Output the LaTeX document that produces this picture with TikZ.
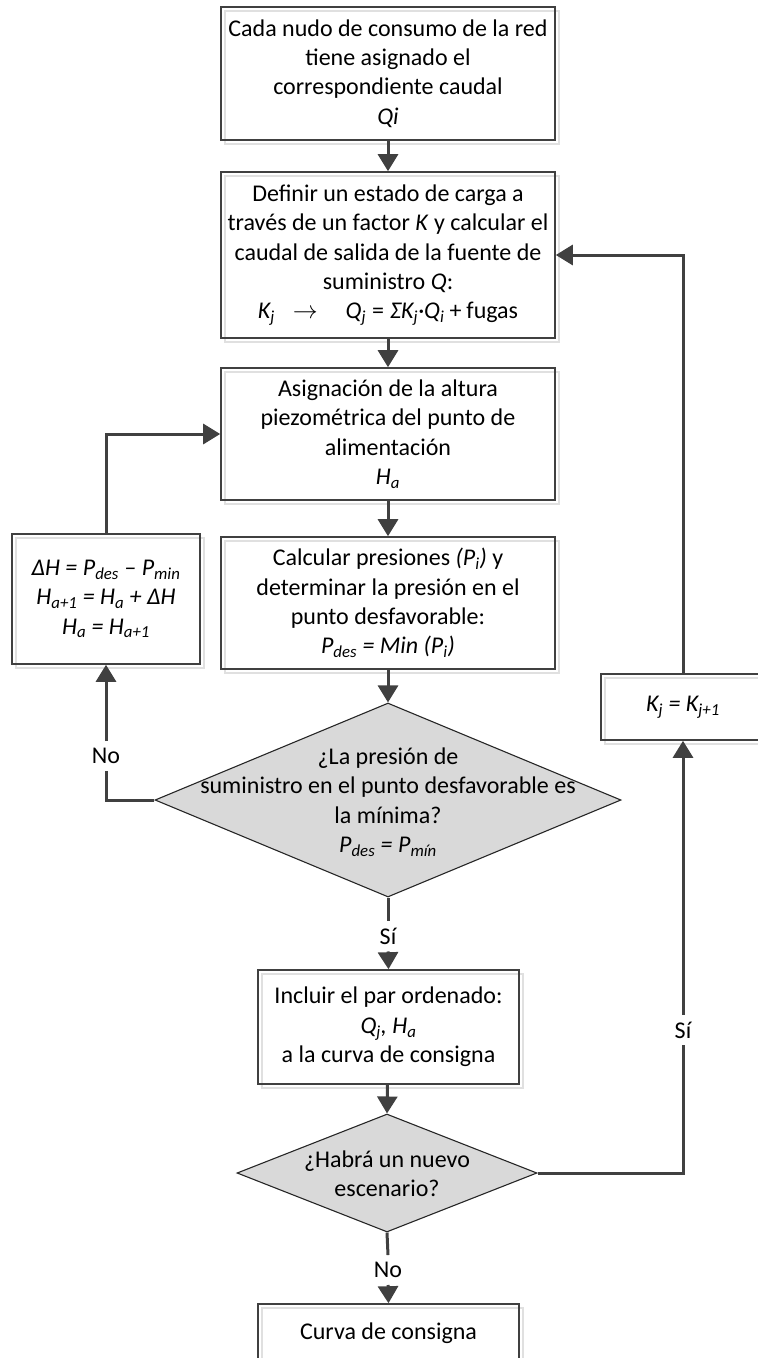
\documentclass[tikz,border=0pt]{standalone}
\usepackage{fontspec}
\setmainfont{Carlito}
\usetikzlibrary{arrows.meta,shapes.geometric}
% italic variable with an italic subscript
\newcommand\iv[2]{\textit{#1\textsubscript{#2}}}
\tikzset{
  txt/.style={font=\fontsize{24}{29.3}\selectfont, align=center},
  procbox/.style={txt, draw=black!75, line width=1.6pt, inner sep=0pt,
    preaction={draw=black!12, line width=1.4pt,
      transform canvas={shift={(4pt,-4pt)}}}},
  decision/.style={diamond, draw=black!85, line width=1.1pt, fill=black!15,
    inner sep=0pt},
  flow/.style={draw=black!75, line width=3pt,
    -{Triangle[width=20pt,length=17pt]}},
  plain/.style={draw=black!75, line width=3pt},
  tag/.style={font=\fontsize{24}{29.3}\selectfont, inner sep=7pt},
}
\begin{document}
\begin{tikzpicture}[x=1pt,y=-1pt]
\useasboundingbox (0,0) rectangle (758,1358);
\clip (0,0) rectangle (758,1358);

% main column
\node[procbox, minimum width=334pt, minimum height=133pt] (b1) at (388,73.5)
  {Cada nudo de consumo de la red\\ tiene asignado el\\ correspondiente caudal\\ \textit{Qi}};
\node[procbox, minimum width=334pt, minimum height=166pt] (b2) at (388,255)
  {Definir un estado de carga a\\ través de un factor \textit{K} y calcular el\\
   caudal de salida de la fuente de\\ suministro \textit{Q}:\\
   \iv{K}{j}\hspace{18pt}$\rightarrow$\hspace{28pt}\iv{Q}{j}\hspace{6pt}=\hspace{6pt}\textit{ΣK\textsubscript{j}·Q\textsubscript{i}}\hspace{5pt}+\hspace{5pt}fugas};
\node[procbox, minimum width=334pt, minimum height=132pt] (b3) at (388,434)
  {Asignación de la altura\\ piezométrica del punto de\\ alimentación\\ \iv{H}{a}};
\node[procbox, minimum width=334pt, minimum height=132pt] (b4) at (388,603)
  {Calcular presiones \textit{(P\textsubscript{i})} y\\ determinar la presión en el\\
   punto desfavorable:\\ \textit{P\textsubscript{des} = Min (P\textsubscript{i})}};

\node[decision, minimum width=466pt, minimum height=194pt] (d1) at (388,800) {};
\node[txt] (d1t) at (388,802)
  {¿La presión de\\ suministro en el punto desfavorable es\\ la mínima?\\
   \textit{P\textsubscript{des} = P\textsubscript{mín}}};

\node[procbox, minimum width=261pt, minimum height=114pt] (b5) at (388.5,1027)
  {Incluir el par ordenado:\\ \textit{Q\textsubscript{j}, H\textsubscript{a}}\\ a la curva de consigna};

\node[decision, minimum width=300pt, minimum height=118pt] (d2) at (387,1173) {};
\node[txt] (d2t) at (387,1174) {¿Habrá un nuevo\\ escenario?};

\node[procbox, minimum width=261pt, minimum height=58pt] (b6) at (388.5,1333)
  {Curva de consigna};

% side boxes
\node[procbox, minimum width=188pt, minimum height=130pt] (lb) at (106,599)
  {\textit{ΔH = P\textsubscript{des} – P\textsubscript{min}}\\
   \textit{H\textsubscript{a+1} = H\textsubscript{a} + ΔH}\\
   \textit{H\textsubscript{a} = H\textsubscript{a+1}}};
\node[procbox, minimum width=164pt, minimum height=66pt] (kj) at (683,707)
  {\textit{K\textsubscript{j} = K\textsubscript{j+1}}};

% branch labels
\node[tag] (si1) at (388,936) {Sí};
\node[tag] (no1) at (106,756) {No};
\node[tag] (si2) at (683,1030) {Sí};
\node[tag] (no2) at (388,1270) {No};

% connectors
\draw[flow] (b1) -- (b2);
\draw[flow] (b2) -- (b3);
\draw[flow] (b3) -- (b4);
\draw[flow] (b4) -- (d1.north);
\draw[plain] (d1.south) -- (si1.north);
\draw[flow] (si1.south) -- (b5.north);
\draw[flow] (b5) -- (d2.north);
\draw[plain] (d2.south) -- (no2.north);
\draw[flow] (no2.south) -- (b6.north);

\draw[plain] (d1.west) -| (no1.south);
\draw[flow] (no1.north) -- (lb.south);
\draw[flow] (lb.north) |- (b3.west);

\draw[plain] (d2.east) -| (si2.south);
\draw[flow] (si2.north) -- (kj.south);
\draw[flow] (kj.north) |- (b2.east);
\end{tikzpicture}
\end{document}
